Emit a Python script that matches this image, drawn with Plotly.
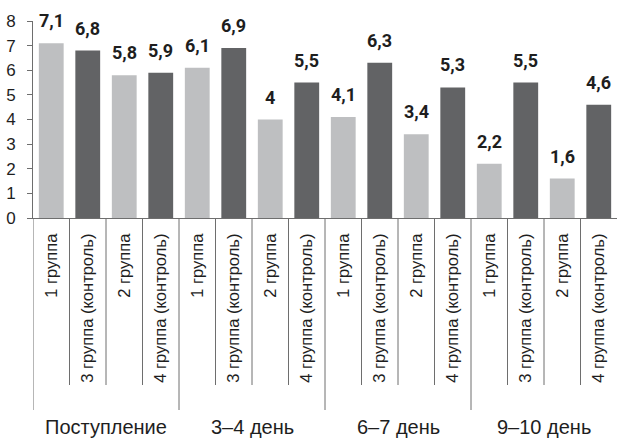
import plotly.graph_objects as go

# Data
groups = ["Поступление", "3–4 день", "6–7 день", "9–10 день"]
subgroups = ["1 группа", "3 группа (контроль)", "2 группа", "4 группа (контроль)"]
values = [
    [7.1, 6.8, 5.8, 5.9],
    [6.1, 6.9, 4.0, 5.5],
    [4.1, 6.3, 3.4, 5.3],
    [2.2, 5.5, 1.6, 4.6],
]
sub_colors = ["#bebfc1", "#626365", "#bebfc1", "#626365"]

n_sub = len(subgroups)
xs, ys, cols, ticktext = [], [], [], []
for gi, g in enumerate(groups):
    for si, s in enumerate(subgroups):
        xs.append(gi * n_sub + si)
        ys.append(values[gi][si])
        cols.append(sub_colors[si])
        ticktext.append(s)


def fmt(v):
    s = f"{v:.1f}".rstrip("0").rstrip(".")
    return s.replace(".", ",")


fig = go.Figure()
fig.add_trace(go.Bar(
    x=xs, y=ys, marker=dict(color=cols, line=dict(width=0)),
    width=0.68, hoverinfo="skip",
))

value_font = "Roboto, Liberation Sans, sans-serif"
text_font = "Liberation Sans, Arial, sans-serif"

# value labels above bars
for x, y in zip(xs, ys):
    fig.add_annotation(
        x=x, y=y, text=f"<b>{fmt(y)}</b>", showarrow=False,
        yanchor="bottom", yshift=10,
        font=dict(family=value_font, size=18, color="#1e1e1e"),
    )

# group labels under the rotated category labels
for gi, g in enumerate(groups):
    fig.add_annotation(
        x=gi * n_sub + (n_sub - 1) / 2, y=0, text=g, showarrow=False,
        yanchor="middle", yshift=-209,
        font=dict(family=text_font, size=20, color="#1e1e1e"),
    )

# boundary lines below the x axis: short between bars, long between groups
line_col = "#6e6e6e"
n = len(xs)
for b in range(n):
    long = (b % n_sub == 0)
    fig.add_shape(
        type="line", xref="x", yref="paper", ysizemode="pixel", yanchor=0,
        x0=b - 0.5, x1=b - 0.5, y0=0, y1=-(192 if long else 167),
        line=dict(color=line_col, width=1),
    )

fig.update_layout(
    width=617, height=439,
    margin=dict(l=33, r=0, t=21, b=221),
    plot_bgcolor="white", paper_bgcolor="white",
    showlegend=False,
    xaxis=dict(
        range=[-0.5, n - 0.5], tickmode="array", tickvals=xs, ticktext=ticktext,
        tickangle=-90, ticks="", showline=True, linecolor=line_col, linewidth=1,
        showgrid=False, zeroline=False, ticklabelstandoff=8,
        tickfont=dict(family=text_font, size=16.5, color="#1e1e1e"),
    ),
    yaxis=dict(
        range=[0, 8], dtick=1, ticks="outside", ticklen=5, tickcolor=line_col,
        showline=True, linecolor=line_col, linewidth=1, showgrid=False, zeroline=False,
        ticklabelstandoff=8,
        tickfont=dict(family=text_font, size=17, color="#1e1e1e"),
    ),
)

fig.write_html("out.html")
